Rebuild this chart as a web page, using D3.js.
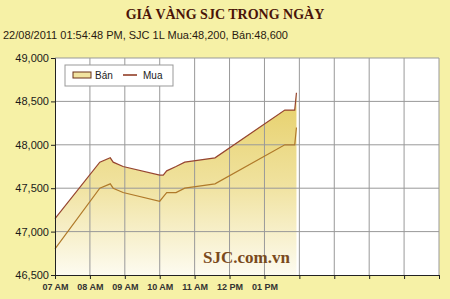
<!DOCTYPE html>
<html>
<head>
<meta charset="utf-8">
<title>Gia vang SJC</title>
<script src="https://cdn.jsdelivr.net/npm/d3@7"></script>
<style>
  body { margin:0; background:#f6f1a6; }
  svg { display:block; }
</style>
</head>
<body>
<svg id="chart" width="450" height="299"></svg>
<script>
"use strict";

// data
const times = ["07:00","08:17","08:35","08:40","08:57","10:00","10:06","10:12","10:28","10:43","11:35","13:35","13:52","13:55"];
const ban = [47150,47800,47850,47800,47750,47650,47650,47700,47750,47800,47850,48400,48400,48600];
const mua = [46800,47500,47550,47500,47450,47350,47400,47450,47450,47500,47550,48000,48000,48200];
const yTicks = [46500,47000,47500,48000,48500,49000];
const hourLabels = ["07 AM","08 AM","09 AM","10 AM","11 AM","12 PM","01 PM"];

const svg = d3.select("#chart");
const margin = {top:58, right:11, bottom:24, left:55};
const W = 450, H = 299;

const parse = d3.timeParse("%H:%M");
const data = times.map((t, i) => ({t: parse(t), ban: ban[i], mua: mua[i]}));

const x = d3.scaleTime()
  .domain([parse("07:00"), parse("18:00")])
  .range([margin.left, W - margin.right]);
const y = d3.scaleLinear()
  .domain([46500, 49000])
  .range([H - margin.bottom, margin.top]);

// title + subtitle
svg.append("text")
  .attr("x", 225).attr("y", 18.5)
  .attr("text-anchor", "middle")
  .style("font", "bold 14px 'Liberation Serif', serif")
  .attr("fill", "#4a1408")
  .text("GIÁ VÀNG SJC TRONG NGÀY");
svg.append("text")
  .attr("x", 3).attr("y", 39)
  .style("font", "11px 'Liberation Sans', Arial, sans-serif")
  .attr("fill", "#2a1a10")
  .text("22/08/2011 01:54:48 PM, SJC 1L Mua:48,200, Bán:48,600");

// plot background
svg.append("rect")
  .attr("x", margin.left).attr("y", margin.top)
  .attr("width", W - margin.right - margin.left)
  .attr("height", H - margin.bottom - margin.top)
  .attr("fill", "#fff");

const defs = svg.append("defs");
const grad = defs.append("linearGradient")
  .attr("id", "fillGrad")
  .attr("gradientUnits", "userSpaceOnUse")
  .attr("x1", 0).attr("x2", 0)
  .attr("y1", y(48600)).attr("y2", y(46500));
grad.append("stop").attr("offset", "0%").attr("stop-color", "#e6cf68");
grad.append("stop").attr("offset", "50%").attr("stop-color", "#f0e29e");
grad.append("stop").attr("offset", "100%").attr("stop-color", "#fdfbf0");

// area under Ban
svg.append("path")
  .datum(data)
  .attr("fill", "url(#fillGrad)")
  .attr("d", d3.area().x(d => x(d.t)).y0(y(46500)).y1(d => y(d.ban)));

// gridlines
const hours = d3.range(7, 19).map(h => parse(String(h).padStart(2, "0") + ":00"));
svg.append("g")
  .selectAll("line")
  .data(hours.slice(1))
  .join("line")
  .attr("x1", d => x(d)).attr("x2", d => x(d))
  .attr("y1", margin.top).attr("y2", H - margin.bottom)
  .attr("stroke", "#999").attr("stroke-width", 1);
svg.append("g")
  .selectAll("line")
  .data(yTicks.slice(1))
  .join("line")
  .attr("x1", margin.left).attr("x2", W - margin.right)
  .attr("y1", d => y(d)).attr("y2", d => y(d))
  .attr("stroke", "#999").attr("stroke-width", 1);

// lines
svg.append("path")
  .datum(data)
  .attr("fill", "none")
  .attr("stroke", "#b07a2a")
  .attr("stroke-width", 1.2)
  .attr("d", d3.line().x(d => x(d.t)).y(d => y(d.mua)));
svg.append("path")
  .datum(data)
  .attr("fill", "none")
  .attr("stroke", "#964530")
  .attr("stroke-width", 1.2)
  .attr("d", d3.line().x(d => x(d.t)).y(d => y(d.ban)));

// watermark
svg.append("text")
  .attr("x", 203).attr("y", 263)
  .style("font", "bold 17px 'Liberation Serif', serif")
  .attr("fill", "#7a4a1c")
  .text("SJC.com.vn");

// axes
const yAxis = d3.axisLeft(y)
  .tickValues(yTicks)
  .tickFormat(d3.format(","))
  .tickSize(4)
  .tickPadding(2);
const gy = svg.append("g")
  .attr("transform", `translate(${margin.left},0)`)
  .call(yAxis);
gy.select(".domain").attr("stroke", "#222");
gy.selectAll(".tick line").attr("stroke", "#222");
gy.selectAll("text")
  .style("font", "11px 'Liberation Sans', Arial, sans-serif")
  .attr("fill", "#1a1a1a");

const xAxis = d3.axisBottom(x)
  .tickValues(hours)
  .tickFormat((d, i) => hourLabels[i] || "")
  .tickSizeInner(4)
  .tickSizeOuter(0)
  .tickPadding(5);
const gx = svg.append("g")
  .attr("transform", `translate(0,${H - margin.bottom})`)
  .call(xAxis);
gx.select(".domain").attr("stroke", "#222");
gx.selectAll(".tick line").attr("stroke", "#222");
gx.selectAll("text")
  .style("font", "bold 9px 'Liberation Sans', Arial, sans-serif")
  .attr("fill", "#333");

// legend
const lg = svg.append("g").attr("transform", "translate(65,65)");
lg.append("rect")
  .attr("width", 108).attr("height", 21)
  .attr("fill", "#fff").attr("stroke", "#999");
lg.append("rect")
  .attr("x", 8).attr("y", 7).attr("width", 18).attr("height", 6)
  .attr("fill", "#f1e3a0").attr("stroke", "#6a3018");
lg.append("text")
  .attr("x", 30).attr("y", 14)
  .style("font", "10px 'Liberation Sans', Arial, sans-serif")
  .attr("fill", "#222").text("Bán");
lg.append("line")
  .attr("x1", 58).attr("x2", 72).attr("y1", 10).attr("y2", 10)
  .attr("stroke", "#8a3018").attr("stroke-width", 1.5);
lg.append("text")
  .attr("x", 78).attr("y", 14)
  .style("font", "10px 'Liberation Sans', Arial, sans-serif")
  .attr("fill", "#222").text("Mua");
</script>
</body>
</html>
